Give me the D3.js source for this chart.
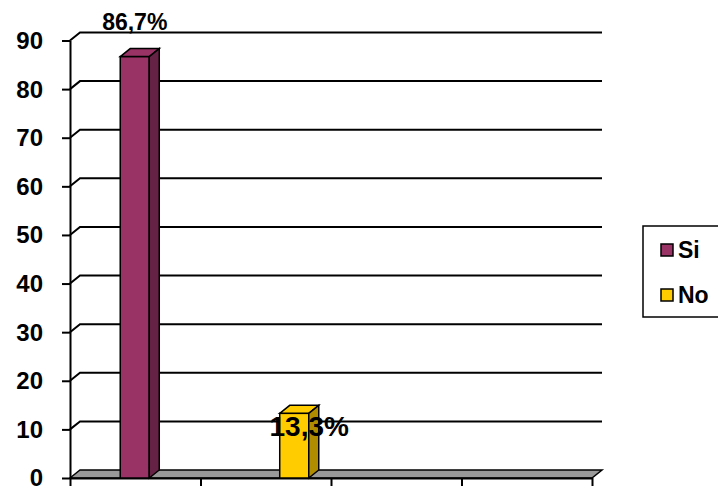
<!DOCTYPE html>
<html lang="es">
<head>
<meta charset="UTF-8">
<title>Si / No</title>
<script src="https://d3js.org/d3.v7.min.js"></script>
<style>
  body { margin: 0; background: #fff; font-family: Arial, "Liberation Sans", sans-serif; }
  text { font-weight: bold; fill: #000; font-family: Arial, "Liberation Sans", sans-serif; }
</style>
</head>
<body>
<svg id="chart" width="718" height="489"></svg>
<script>
// data
const categories = ["Si", "No"];
const values = [86.7, 13.3];
const valueLabels = ["86,7%", "13,3%"];
const yTickValues = [0, 10, 20, 30, 40, 50, 60, 70, 80, 90];
const xTickCount = 4;

const frontColor = { Si: "#993366", No: "#ffcc00" };
const sideColor = { Si: "#662244", No: "#b08c00" };

const svg = d3.select("#chart");
const dx = 10, dy = -8;          // 3d depth offset
const x0 = 70, x1 = 592;

const y = d3.scaleLinear().domain([0, 90]).range([478, 40.5]);
const xAxisScale = d3.scaleLinear().domain([0, xTickCount]).range([x0, x1]);
const xBar = d3.scaleBand().domain(categories).range([55, 374])
    .paddingInner(0.818).paddingOuter(0.409);

// back wall gridlines
const grid = svg.append("g");
grid.selectAll("path.grid")
    .data(yTickValues.filter(d => d > 0))
    .enter().append("path")
    .attr("class", "grid")
    .attr("d", d => `M${x0},${y(d)}L${x0 + dx},${y(d) + dy}L${x1 + dx},${y(d) + dy}`)
    .attr("fill", "none")
    .attr("stroke", "#000")
    .attr("stroke-width", 2);

// floor
svg.append("path")
    .attr("d", `M${x0},${y(0)}L${x0 + dx},${y(0) + dy}L${x1 + dx},${y(0) + dy}L${x1},${y(0)}Z`)
    .attr("fill", "#999999")
    .attr("stroke", "#000")
    .attr("stroke-width", 1.5);

// y axis
const yAxis = svg.append("g")
    .attr("transform", `translate(${x0},0)`)
    .call(d3.axisLeft(y).tickValues(yTickValues).tickSize(8).tickSizeOuter(0).tickPadding(19));
yAxis.attr("font-family", null);
yAxis.selectAll("text").style("font-size", "24px").attr("dy", "0.33em");
yAxis.selectAll("line, path").attr("stroke", "#000").attr("stroke-width", 2);

// x axis
const xAxis = svg.append("g")
    .attr("transform", `translate(0,${y(0)})`)
    .call(d3.axisBottom(xAxisScale).ticks(xTickCount).tickSize(8).tickSizeOuter(0).tickFormat(""));
xAxis.selectAll("line, path").attr("stroke", "#000").attr("stroke-width", 2);

// bars
const bw = xBar.bandwidth();
const bars = svg.selectAll("g.bar")
    .data(categories.map((c, i) => ({ c, v: values[i], label: valueLabels[i], i })))
    .enter().append("g").attr("class", "bar");

bars.append("rect")
    .attr("x", d => xBar(d.c))
    .attr("y", d => y(d.v))
    .attr("width", bw)
    .attr("height", d => y(0) - y(d.v))
    .attr("fill", d => frontColor[d.c])
    .attr("stroke", "#000").attr("stroke-width", 1.5);

bars.append("path")
    .attr("d", d => {
        const xl = xBar(d.c), yt = y(d.v);
        return `M${xl},${yt}L${xl + dx},${yt + dy}L${xl + bw + dx},${yt + dy}L${xl + bw},${yt}Z`;
    })
    .attr("fill", d => frontColor[d.c])
    .attr("stroke", "#000").attr("stroke-width", 1.5);

bars.append("path")
    .attr("d", d => {
        const xr = xBar(d.c) + bw, yt = y(d.v);
        return `M${xr},${yt}L${xr + dx},${yt + dy}L${xr + dx},${y(0) + dy}L${xr},${y(0)}Z`;
    })
    .attr("fill", d => sideColor[d.c])
    .attr("stroke", "#000").attr("stroke-width", 1.5);

// value labels
bars.append("text")
    .attr("x", d => xBar(d.c) + bw / 2 + (d.i === 0 ? 0 : 15))
    .attr("y", d => y(d.v) + (d.i === 0 ? -27 : 23))
    .attr("text-anchor", "middle")
    .style("font-size", d => d.i === 0 ? "23px" : "28px")
    .text(d => d.label);

// legend
const legend = svg.append("g").attr("transform", "translate(643,226)");
legend.append("rect")
    .attr("width", 90).attr("height", 91)
    .attr("fill", "#fff").attr("stroke", "#000").attr("stroke-width", 1.5);

const items = legend.selectAll("g.item")
    .data(categories)
    .enter().append("g").attr("class", "item")
    .attr("transform", (d, i) => `translate(18,${18 + i * 45})`);
items.append("rect")
    .attr("width", 12).attr("height", 12)
    .attr("fill", d => frontColor[d])
    .attr("stroke", "#000").attr("stroke-width", 1.5);
items.append("text")
    .attr("x", 17).attr("y", 14)
    .style("font-size", "23px")
    .text(d => d);
</script>
</body>
</html>
